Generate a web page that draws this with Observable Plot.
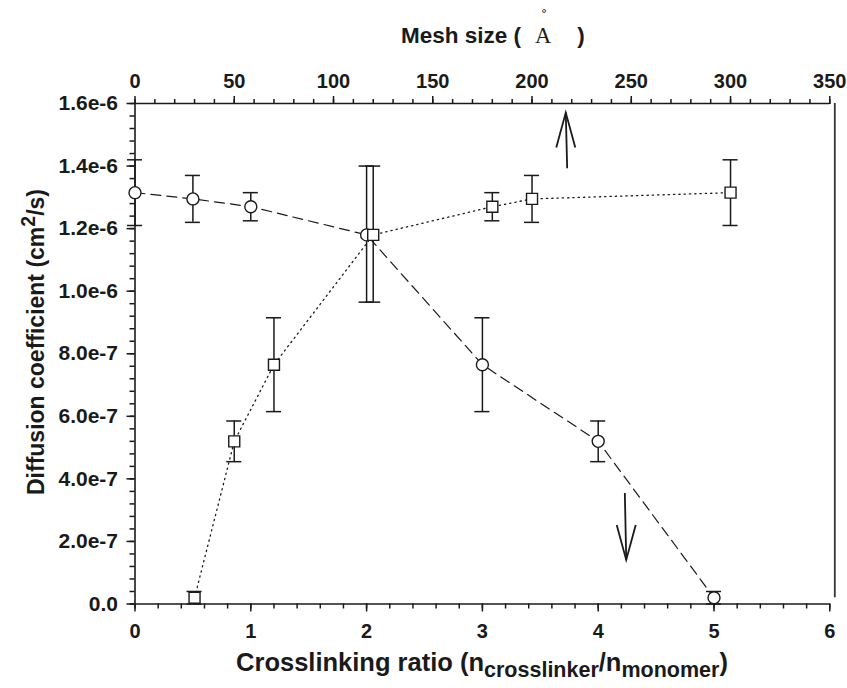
<!DOCTYPE html>
<html><head><meta charset="utf-8">
<script src="https://cdn.jsdelivr.net/npm/d3@7"></script>
<script src="https://cdn.jsdelivr.net/npm/@observablehq/plot@0.6"></script>
<style>body{margin:0;background:#fff} svg{display:block}</style>
</head><body><div id="chart"></div>
<script>
// Circles: diffusion coefficient vs crosslinking ratio (bottom axis)
const ratio   = [0, 0.5, 1, 2, 3, 4, 5];
const ratioD  = [1.315e-6, 1.295e-6, 1.27e-6, 1.18e-6, 0.765e-6, 0.52e-6, 0.02e-6];
const ratioHi = [1.42e-6, 1.37e-6, 1.315e-6, 1.40e-6, 0.915e-6, 0.585e-6, 0.04e-6];
const ratioLo = [1.21e-6, 1.22e-6, 1.225e-6, 0.965e-6, 0.615e-6, 0.455e-6, 0.0];
// Squares: diffusion coefficient vs mesh size in Å (top axis)
const mesh    = [30, 50, 70, 120, 180, 200, 300];
const meshD   = [0.02e-6, 0.52e-6, 0.765e-6, 1.18e-6, 1.27e-6, 1.295e-6, 1.315e-6];
const meshHi  = [0.04e-6, 0.585e-6, 0.915e-6, 1.40e-6, 1.315e-6, 1.37e-6, 1.42e-6];
const meshLo  = [0.0, 0.455e-6, 0.615e-6, 0.965e-6, 1.225e-6, 1.22e-6, 1.21e-6];
// Axis ticks and labels
const bottomTicks = [0, 1, 2, 3, 4, 5, 6];
const topTicks = [0, 50, 100, 150, 200, 250, 300, 350];
const yTicks = [0, 2e-7, 4e-7, 6e-7, 8e-7, 1.0e-6, 1.2e-6, 1.4e-6, 1.6e-6];
const yTickLabels = ["0.0", "2.0e-7", "4.0e-7", "6.0e-7", "8.0e-7", "1.0e-6", "1.2e-6", "1.4e-6", "1.6e-6"];
// Annotation arrows (ratio units, diffusion units): from -> to
const arrowFromX = [3.732, 4.23];
const arrowFromY = [1.393e-6, 0.355e-6];
const arrowToX   = [3.72, 4.242];
const arrowToY   = [1.571e-6, 0.141e-6];

const K = 6 / 350; // mesh size -> shared x position (top axis spans same width)
const cap = 0.065;
const ink = "#1a1a1a";

const circles = ratio.map((x, i) => ({x, d: ratioD[i], hi: ratioHi[i], lo: ratioLo[i]}));
const squares = mesh.map((m, i) => ({x: m * K, d: meshD[i], hi: meshHi[i], lo: meshLo[i]}));
const arrows = arrowFromX.map((x1, i) => ({x1, y1: arrowFromY[i], x2: arrowToX[i], y2: arrowToY[i]}));

const vHead = {draw(ctx) { ctx.moveTo(-9.5, 35); ctx.lineTo(0, 0); ctx.lineTo(9.5, 35); }};
const errorBars = (data) => [
  Plot.ruleX(data, {x: "x", y1: "lo", y2: "hi", stroke: ink, strokeWidth: 1.5}),
  Plot.ruleY(data, {y: "hi", x1: d => d.x - cap, x2: d => d.x + cap, stroke: ink, strokeWidth: 1.5}),
  Plot.ruleY(data, {y: "lo", x1: d => d.x - cap, x2: d => d.x + cap, stroke: ink, strokeWidth: 1.5})
];

const plot = Plot.plot({
  width: 847, height: 688,
  marginTop: 103, marginBottom: 84.5, marginLeft: 134.5, marginRight: 17.7,
  x: {domain: [0, 6]},
  y: {domain: [0, 1.6e-6]},
  style: {fontFamily: "'Liberation Sans', Arial, sans-serif", fontSize: "19.5px", fontWeight: "bold", background: "#fff", color: ink},
  marks: [
    // axes
    Plot.axisX(bottomTicks, {anchor: "bottom", tickSize: 8, tickPadding: 12, tickFormat: d => String(d), label: null, strokeWidth: 1.5, fontSize: 20}),
    Plot.axisX(d3.range(0, 30.5).map(i => i * 0.2), {anchor: "bottom", tickSize: 5, tickFormat: () => "", label: null, strokeWidth: 1.5}),
    Plot.axisX(topTicks.map(m => m * K), {anchor: "top", tickSize: 8, tickPadding: 8, tickFormat: d => String(Math.round(d / K)), label: null, strokeWidth: 1.5, fontSize: 20}),
    Plot.axisX(d3.range(0, 35.5).map(i => i * 10 * K), {anchor: "top", tickSize: 5, tickFormat: () => "", label: null, strokeWidth: 1.5}),
    Plot.axisY(yTicks, {anchor: "left", tickSize: 8, tickPadding: 9, tickFormat: d => yTickLabels[yTicks.indexOf(d)], label: null, strokeWidth: 1.5, fontSize: 21}),
    Plot.axisY(d3.range(0, 40.5).map(i => i * 0.04e-6), {anchor: "left", tickSize: 5, tickFormat: () => "", label: null, strokeWidth: 1.5}),
    Plot.ruleY([0, 1.6e-6], {stroke: ink, strokeWidth: 1.6}),
    Plot.ruleX([0], {stroke: ink, strokeWidth: 1.6}),
    Plot.ruleX([6], {dx: 5, y1: 0.02e-6, y2: 1.6e-6, stroke: "#333", strokeWidth: 1.8}),
    // connecting lines
    Plot.line(circles, {x: "x", y: "d", stroke: ink, strokeWidth: 1.2, strokeDasharray: "10,6"}),
    Plot.line(squares, {x: "x", y: "d", stroke: ink, strokeWidth: 1.3, strokeDasharray: "1.3,4"}),
    // error bars
    ...errorBars(circles),
    ...errorBars(squares),
    // markers
    Plot.dot(circles, {x: "x", y: "d", r: 6, fill: "#fff", stroke: ink, strokeWidth: 1.4}),
    Plot.dot(squares, {x: "x", y: "d", symbol: "square", r: 6.2, fill: "#fff", stroke: ink, strokeWidth: 1.4}),
    // arrows
    Plot.link(arrows, {x1: "x1", y1: "y1", x2: "x2", y2: "y2", stroke: ink, strokeWidth: 1.8}),
    Plot.dot(arrows, {x: "x2", y: "y2", symbol: vHead, r: 10, fill: "none", stroke: ink, strokeWidth: 1.8, rotate: d => d.y2 > d.y1 ? 0 : 180})
  ]
});

const svg = d3.select(plot);
// top title
const tt = svg.append("text").attr("y", 43).attr("text-anchor", "middle").attr("fill", ink).style("font-size", "22.5px");
tt.append("tspan").attr("x", 461).text("Mesh size (");
tt.append("tspan").attr("x", 543).style("font-family", "'Liberation Serif', 'DejaVu Serif', serif").style("font-weight", "normal").text("A");
tt.append("tspan").attr("x", 581).text(")");
svg.append("text").attr("x", 544).attr("y", 17).attr("text-anchor", "middle").attr("fill", "#000")
  .style("font-family", "'DejaVu Sans', sans-serif").style("font-weight", "normal").style("font-size", "11px").text("°");
// bottom title
const xt = svg.append("text").attr("x", 482).attr("y", 671).attr("text-anchor", "middle").attr("fill", ink).style("font-size", "25.5px");
xt.append("tspan").text("Crosslinking ratio (n");
xt.append("tspan").attr("dy", 6).style("font-size", "21.5px").text("crosslinker");
xt.append("tspan").attr("dy", -6).text("/n");
xt.append("tspan").attr("dy", 6).style("font-size", "21.5px").text("monomer");
xt.append("tspan").attr("dy", -6).text(")");
// y title
const yt = svg.append("text").attr("transform", "translate(44,342) rotate(-90)").attr("text-anchor", "middle").attr("fill", ink).style("font-size", "23px");
yt.append("tspan").text("Diffusion coefficient (cm");
yt.append("tspan").attr("dy", -9).style("font-size", "19.5px").text("2");
yt.append("tspan").attr("dy", 9).text("/s)");

document.getElementById("chart").append(plot);
</script>
</body></html>
